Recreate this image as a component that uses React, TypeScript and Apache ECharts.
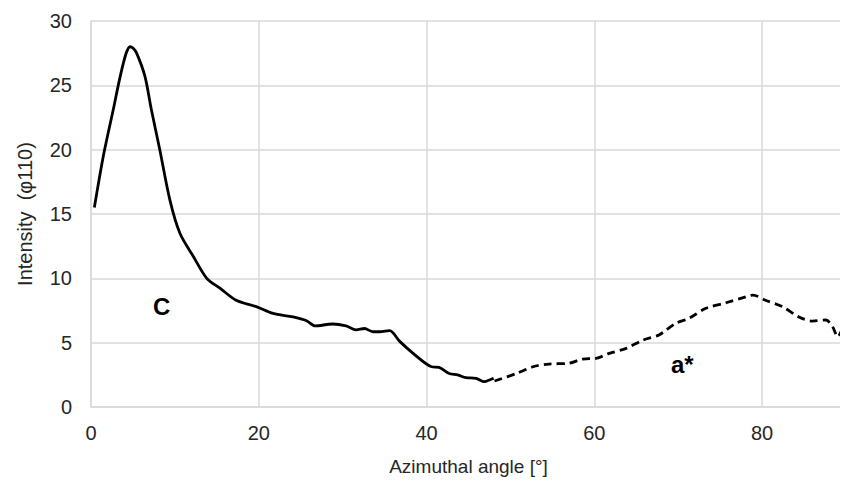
import React, { useEffect, useRef } from "react";
import * as echarts from "echarts";

const solidX = [0.4, 1.5, 2.65, 3.25, 3.85, 4.25, 4.64, 5.0, 5.44, 6.43, 7.2, 8.2, 9.4, 10.6, 12.2, 13.8, 15.4, 17.3, 19.7, 21.7, 24.1, 25.7, 26.7, 28.8, 30.4, 31.6, 32.6, 33.6, 34.4, 35.6, 36.8, 38.4, 40.6, 41.5, 42.7, 43.7, 44.7, 45.9, 46.9, 47.5, 48.0];
const solidY = [15.5, 19.6, 23.1, 25.0, 26.7, 27.6, 28.0, 27.9, 27.5, 25.7, 23.1, 20.0, 16.1, 13.5, 11.7, 10.0, 9.22, 8.3, 7.8, 7.27, 7.0, 6.7, 6.3, 6.45, 6.3, 6.0, 6.1, 5.85, 5.85, 5.93, 5.1, 4.17, 3.13, 3.08, 2.6, 2.49, 2.28, 2.23, 1.97, 2.1, 2.23];
const dashedX = [48.1, 50.7, 52.7, 54.6, 57.0, 58.6, 60.2, 61.8, 63.8, 65.8, 67.7, 69.7, 71.3, 73.3, 75.7, 78.1, 78.9, 80.4, 82.4, 84.4, 86.0, 87.6, 88.4, 89.0, 90.0];
const dashedY = [2.02, 2.6, 3.13, 3.34, 3.4, 3.73, 3.78, 4.17, 4.56, 5.2, 5.6, 6.5, 6.9, 7.67, 8.1, 8.57, 8.7, 8.3, 7.8, 7.0, 6.68, 6.76, 6.24, 5.46, 6.9];
const yTicks = [0, 5, 10, 15, 20, 25, 30];
const xTicks = [0, 20, 40, 60, 80];

const FONT = "Liberation Sans, Arial, sans-serif";

export default function App() {
  const ref = useRef<HTMLDivElement>(null);
  useEffect(() => {
    if (!ref.current) return;
    const chart = echarts.init(ref.current, null, { renderer: "svg" });
    chart.setOption({
      animation: false,
      backgroundColor: "#ffffff",
      grid: { left: 91, right: 2, top: 21, bottom: 81 },
      xAxis: {
        type: "value",
        min: 0,
        max: 90,
        interval: 20,
        name: "Azimuthal angle [°]",
        nameLocation: "middle",
        nameGap: 50,
        nameTextStyle: { fontFamily: FONT, fontSize: 19, color: "#262626" },
        axisLine: { show: true, lineStyle: { color: "#d9d9d9", width: 1.5 } },
        axisTick: { show: false },
        axisLabel: {
          fontFamily: FONT,
          fontSize: 20,
          color: "#262626",
          margin: 16,
          showMaxLabel: false,
          formatter: (v: number) => (xTicks.includes(v) ? String(v) : ""),
        },
        splitLine: { show: true, lineStyle: { color: "#d9d9d9", width: 1.5 } },
      },
      yAxis: {
        type: "value",
        min: yTicks[0],
        max: yTicks[yTicks.length - 1],
        interval: 5,
        name: "Intensity  (φ110)",
        nameLocation: "middle",
        nameGap: 56,
        nameTextStyle: { fontFamily: FONT, fontSize: 20, color: "#262626" },
        axisLine: { show: true, lineStyle: { color: "#d9d9d9", width: 1.5 } },
        axisTick: { show: false },
        axisLabel: { fontFamily: FONT, fontSize: 20, color: "#262626", margin: 19 },
        splitLine: { show: true, lineStyle: { color: "#d9d9d9", width: 1.5 } },
      },
      series: [
        {
          type: "line",
          data: solidX.map((x, i) => [x, solidY[i]]),
          smooth: 0.3,
          showSymbol: false,
          lineStyle: { color: "#000000", width: 2.8 },
        },
        {
          type: "line",
          data: dashedX.map((x, i) => [x, dashedY[i]]),
          smooth: 0.3,
          showSymbol: false,
          lineStyle: { color: "#000000", width: 2.8, type: [8, 5] },
        },
      ],
      graphic: [
        {
          type: "text",
          left: 153,
          top: 294,
          style: { text: "C", font: `bold 24px ${FONT}`, fill: "#000" },
        },
        {
          type: "text",
          left: 671,
          top: 352,
          style: { text: "a*", font: `bold 24px ${FONT}`, fill: "#000" },
        },
      ],
    });
    return () => chart.dispose();
  }, []);
  return <div ref={ref} style={{ width: 848, height: 488, margin: -8 }} />;
}
